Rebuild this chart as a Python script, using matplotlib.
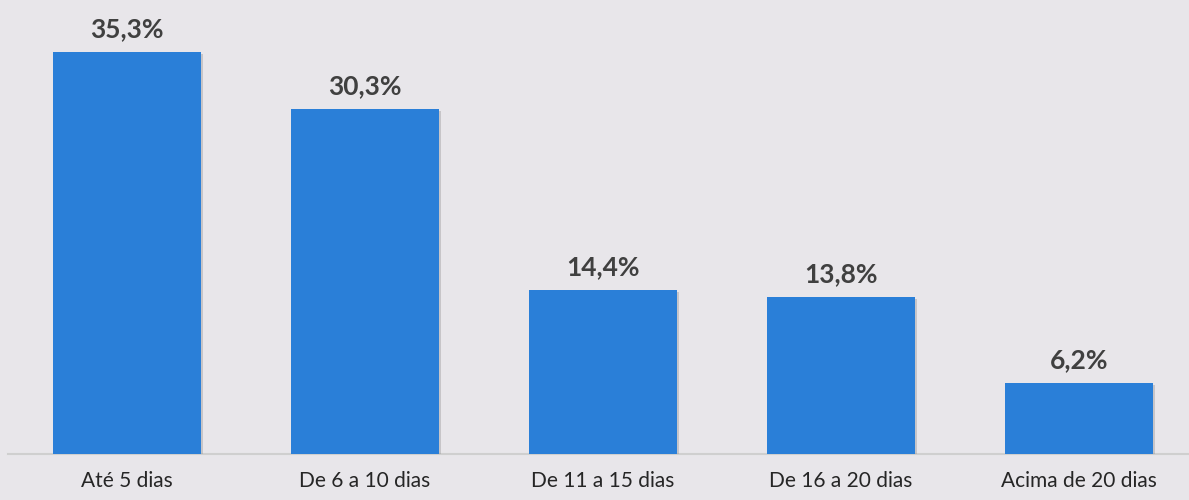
import matplotlib
matplotlib.use('Agg')
import matplotlib.pyplot as plt
import matplotlib.patheffects as pe

categorias = ['Até 5 dias', 'De 6 a 10 dias', 'De 11 a 15 dias', 'De 16 a 20 dias', 'Acima de 20 dias']
valores = [35.3, 30.3, 14.4, 13.8, 6.2]
rotulos = ['35,3%', '30,3%', '14,4%', '13,8%', '6,2%']

plt.rcParams['font.family'] = ['Lato', 'DejaVu Sans']

fundo = '#E8E6EA'
fig = plt.figure(figsize=(11.89, 5), dpi=100, facecolor=fundo)
ax = fig.add_axes([8 / 1189, 46 / 500, 1 - 8 / 1189, 454 / 500])
ax.set_facecolor(fundo)

x = list(range(len(categorias)))
sombra = [pe.SimplePatchShadow(offset=(1.5, -1.5), shadow_rgbFace='#8A8A8A', alpha=0.35), pe.Normal()]
ax.bar(x, valores, width=0.625, color='#2A7FD8', zorder=3, path_effects=sombra)

for xi, v, r in zip(x, valores, rotulos):
    ax.annotate(r, (xi, v), xytext=(0, 8), textcoords='offset points',
                ha='center', va='bottom', fontsize=19, fontweight='bold', color='#404040')

ax.set_xlim(-0.5, 4.5 - 9 / 238)
ax.set_ylim(0, 454 / 11.39)
ax.set_xticks(x)
ax.set_xticklabels(categorias, fontsize=15, color='#262626')
ax.tick_params(axis='x', length=0, pad=12)
ax.set_yticks([])
for s in ['top', 'right', 'left']:
    ax.spines[s].set_visible(False)
ax.spines['bottom'].set_color('#CFCFCF')
ax.spines['bottom'].set_linewidth(1.5)

fig.savefig('out.png', dpi=100, facecolor=fundo)
